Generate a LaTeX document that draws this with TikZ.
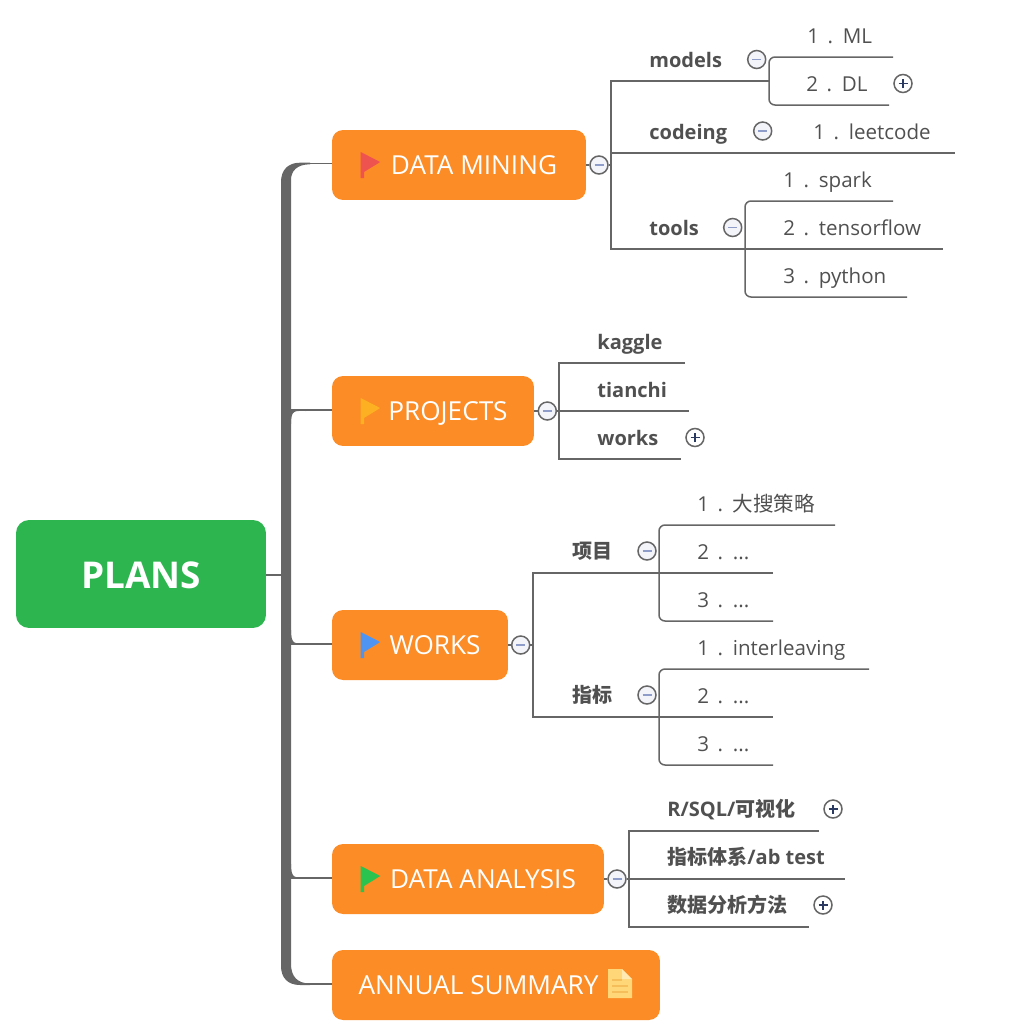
\documentclass[tikz,border=0pt]{standalone}
\usepackage{fontspec}
\setmainfont{Open Sans}
\newfontfamily\cjk{Noto Sans CJK SC}
\usetikzlibrary{calc}
\definecolor{trunkgray}{HTML}{666666}
\definecolor{orangebox}{HTML}{FB8C26}
\definecolor{greenbox}{HTML}{2DB650}
\definecolor{labelgray}{HTML}{505050}
\definecolor{foldfill}{HTML}{F3F4FA}
\definecolor{minusblue}{HTML}{8D9CC8}
\definecolor{plusnavy}{HTML}{2B3A60}
\definecolor{flagred}{HTML}{EF5350}
\definecolor{flagamber}{HTML}{FDB022}
\definecolor{flagblue}{HTML}{4F94F0}
\definecolor{flaggreen}{HTML}{2AC34F}
\definecolor{notefill}{HTML}{FFD778}
\definecolor{notefold}{HTML}{FFEAB4}
\definecolor{noteline}{HTML}{F5BE5A}
\def\numitem#1#2{#1\hspace{.42em}.\hspace{.47em}#2}
\def\flagmark(#1,#2)#3{\fill[#3] (#1,#2) -- (#1+19.5,#2+10) -- (#1+3.3,#2+20) -- (#1+3.3,#2+26) -- (#1,#2+26) -- cycle;}
\def\trunkwedge(#1,#2,#3){\fill[trunkgray] (291,#2) .. controls (291,#1) and (295,#3) .. (306,#3) -- (306,#1) -- (291,#1) -- cycle;}
\tikzset{
	branch/.style={draw=trunkgray, line width=0.03cm},
	rootbox/.style={fill=greenbox, text=white, rounded corners=0.26cm, inner sep=0, minimum width=5cm, minimum height=2.16cm, text height=19pt, text depth=2pt, font=\fontsize{21}{25}\selectfont\bfseries},
	topicbox/.style={fill=orangebox, text=white, rounded corners=0.22cm, inner sep=0, minimum height=1.4cm, text height=13pt, text depth=2.4pt, font=\fontsize{14.9}{18}\selectfont},
	leaf/.style={anchor=west, xshift=-0.02cm, inner sep=0, text=labelgray, text height=10.6pt, text depth=2.5pt, font=\fontsize{11.7}{14}\selectfont},
	boldleaf/.style={leaf, xshift=0.02cm, font=\fontsize{11.4}{14}\selectfont\bfseries},
	foldminus/.style={circle, draw=trunkgray, fill=foldfill, line width=0.03cm, inner sep=0, minimum size=0.36cm, path picture={\draw[minusblue, line width=0.03cm] ([xshift=-0.09cm]path picture bounding box.center) -- ([xshift=0.09cm]path picture bounding box.center);}},
	foldplus/.style={circle, draw=trunkgray, fill=white, line width=0.03cm, inner sep=0, minimum size=0.36cm, path picture={\draw[plusnavy, line width=0.03cm] ([xshift=-0.09cm]path picture bounding box.center) -- ([xshift=0.09cm]path picture bounding box.center) ([yshift=-0.09cm]path picture bounding box.center) -- ([yshift=0.09cm]path picture bounding box.center);}}
}
\begin{document}
\begin{tikzpicture}[x=0.02cm, y=-0.02cm]
	\useasboundingbox (0,0) rectangle (1018,1028);

	%%%%% TRUNK %%%%%
	\coordinate (trunkplans) at (286,575);
	\coordinate (trunkmining) at (300,163.5);
	\coordinate (trunkprojects) at (286,410);
	\coordinate (trunkworks) at (286,644);
	\coordinate (trunkanalysis) at (286,878);
	\coordinate (trunksummary) at (300,984);

	\fill[trunkgray] (310,162.7) -- (300,162.7) .. controls (288,162.7) and (281,170) .. (281,182) -- (281,966) .. controls (281,978) and (288,985) .. (300,985) -- (310,985) -- (310,983.5) .. controls (297,983.5) and (291,976) .. (291,964) -- (291,180) .. controls (291,171) and (297,164.3) .. (310,164.3) -- cycle;
	\trunkwedge(409.2,424,411)
	\trunkwedge(644.8,630,643.7)
	\trunkwedge(878.8,864,877.7)

	%%%%% TOPICS %%%%%
	\node[rootbox] (plans) at (141,574) {PLANS};
	\node[topicbox, minimum width=5.08cm] (mining) at (459,165) {\hspace*{0.6cm}DATA MINING};
	\node[topicbox, minimum width=4.04cm] (projects) at (433,411) {\hspace*{0.6cm}PROJECTS};
	\node[topicbox, minimum width=3.52cm] (works) at (420,645) {\hspace*{0.6cm}WORKS};
	\node[topicbox, minimum width=5.44cm] (analysis) at (468,879) {\hspace*{0.6cm}DATA ANALYSIS};
	\node[topicbox, minimum width=6.56cm] (summary) at (496,985) {\hspace*{-0.7cm}ANNUAL SUMMARY};

	\draw[branch] (plans.east |- trunkplans) -- (trunkplans);
	\draw[branch] (trunkmining) -- (trunkmining -| mining.west);
	\draw[branch] (trunkprojects) -- (trunkprojects -| projects.west);
	\draw[branch] (trunkworks) -- (trunkworks -| works.west);
	\draw[branch] (trunkanalysis) -- (trunkanalysis -| analysis.west);
	\draw[branch] (trunksummary) -- (trunksummary -| summary.west);

	\flagmark(360.7,152){flagred}
	\flagmark(360.7,398){flagamber}
	\flagmark(360.7,632){flagblue}
	\flagmark(360.7,866){flaggreen}

	% note icon
	\fill[notefill] (608,969) -- (622,969) -- (632,979) -- (632,998) -- (608,998) -- cycle;
	\fill[notefold] (622,969) -- (632,979) -- (622,979) -- cycle;
	\draw[noteline, line width=0.03cm] (612,980) -- (622,980) (612,986) -- (628,986) (612,992) -- (628,992);

	%%%%% DATA MINING %%%%%
	\coordinate (miningjoin) at (611,165);
	\coordinate (modelsend) at (769,81);
	\coordinate (codeingend) at (955,153);
	\coordinate (toolsend) at (943,249);
	\coordinate (codeingstart) at (611,153);
	\coordinate (mlend) at (893,57);
	\coordinate (dlend) at (889,105);
	\coordinate (sparkend) at (893,201);
	\coordinate (pythonend) at (907,297);
	\coordinate (toolsbar) at (745,249);

	\node[foldminus] (miningfold) at (599,165) {};
	\node[boldleaf] (models) at (649,60) {models};
	\node[boldleaf] (codeing) at (649,132) {codeing};
	\node[boldleaf] (tools) at (649,228) {tools};
	\node[foldminus] (modelsfold) at (756.7,59.5) {};
	\node[foldminus] (codeingfold) at (762.7,131) {};
	\node[foldminus] (toolsfold) at (732.7,227.5) {};
	\node[leaf] (ml) at (808,36) {\numitem{1}{ML}};
	\node[leaf] (dl) at (807,84) {\numitem{2}{DL}};
	\node[foldplus] (dlfold) at (903,83.5) {};
	\node[leaf] (leetcode) at (814,132) {\numitem{1}{leetcode}};
	\node[leaf] (spark) at (784,180) {\numitem{1}{spark}};
	\node[leaf] (tensorflow) at (784,228) {\numitem{2}{tensorflow}};
	\node[leaf] (python) at (784,276) {\numitem{3}{python}};

	\draw[branch] (mining.east) -- (miningfold);
	\draw[branch] (miningfold) -- (miningjoin);
	\draw[branch] (modelsend) -- (modelsend -| miningjoin) -- (toolsend -| miningjoin) -- (toolsend);
	\draw[branch] (codeingstart) -- (codeingend);
	\draw[branch, rounded corners=0.12cm] (mlend) -| (modelsend) |- (dlend);
	\draw[branch, rounded corners=0.12cm] (sparkend) -| (toolsbar) |- (pythonend);

	%%%%% PROJECTS %%%%%
	\coordinate (projectsjoin) at (559,411);
	\coordinate (kaggleend) at (685,363);
	\coordinate (tianchiend) at (689,411);
	\coordinate (worksend) at (681,459);

	\node[foldminus] (projectsfold) at (547.3,411) {};
	\node[boldleaf] (kaggle) at (597,342) {kaggle};
	\node[boldleaf] (tianchi) at (597,390) {tianchi};
	\node[boldleaf] (workstask) at (597,438) {works};
	\node[foldplus] (workstaskfold) at (695,437.5) {};

	\draw[branch] (projects.east) -- (projectsfold);
	\draw[branch] (projectsfold) -- (tianchiend);
	\draw[branch] (kaggleend) -| (projectsjoin) |- (worksend);

	%%%%% WORKS %%%%%
	\coordinate (worksjoin) at (533,645);
	\coordinate (itemend) at (773,573);
	\coordinate (metricend) at (773,717);
	\coordinate (itembar) at (659,573);
	\coordinate (metricbar) at (659,717);
	\coordinate (searchend) at (835,525);
	\coordinate (itemlast) at (773,621);
	\coordinate (interend) at (869,669);
	\coordinate (metriclast) at (773,765);

	\node[foldminus] (worksfold) at (520.7,645) {};
	\node[boldleaf] (item) at (572,551) {\cjk 项目};
	\node[boldleaf] (metric) at (572,695) {\cjk 指标};
	\node[foldminus] (itemfold) at (647,551) {};
	\node[foldminus] (metricfold) at (647,695) {};
	\node[leaf] (search) at (698,504) {\numitem{1}{\cjk 大搜策略}};
	\node[leaf] (itemtwo) at (698,552) {\numitem{2}{...}};
	\node[leaf] (itemthree) at (698,600) {\numitem{3}{...}};
	\node[leaf] (inter) at (698,648) {\numitem{1}{interleaving}};
	\node[leaf] (metrictwo) at (698,696) {\numitem{2}{...}};
	\node[leaf] (metricthree) at (698,744) {\numitem{3}{...}};

	\draw[branch] (works.east) -- (worksfold);
	\draw[branch] (worksfold) -- (worksjoin);
	\draw[branch] (itemend) -| (worksjoin) |- (metricend);
	\draw[branch, rounded corners=0.12cm] (searchend) -| (itembar) |- (itemlast);
	\draw[branch, rounded corners=0.12cm] (interend) -| (metricbar) |- (metriclast);

	%%%%% DATA ANALYSIS %%%%%
	\coordinate (analysisjoin) at (629,879);
	\coordinate (sqlend) at (819,831);
	\coordinate (abend) at (845,879);
	\coordinate (methodend) at (809,927);

	\node[foldminus] (analysisfold) at (617,879) {};
	\node[boldleaf] (sql) at (667,809) {R/SQL/{\cjk 可视化}};
	\node[foldplus] (sqlfold) at (833,809) {};
	\node[boldleaf] (ab) at (667,857) {{\cjk 指标体系}/ab test};
	\node[boldleaf] (method) at (667,905) {\cjk 数据分析方法};
	\node[foldplus] (methodfold) at (823,905) {};

	\draw[branch] (analysis.east) -- (analysisfold);
	\draw[branch] (analysisfold) -- (abend);
	\draw[branch] (sqlend) -| (analysisjoin) |- (methodend);
\end{tikzpicture}
\end{document}
